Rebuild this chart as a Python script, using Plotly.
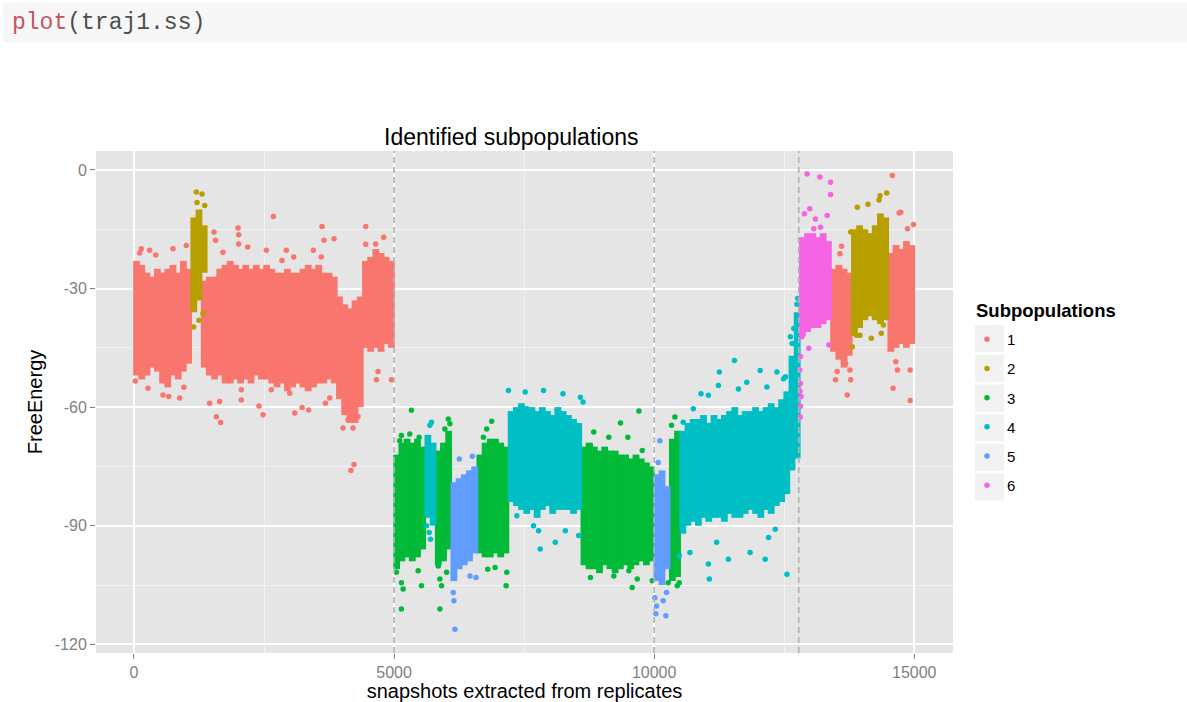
import plotly.graph_objects as go

# ---------------- data ----------------
CLUSTERS = ["1", "2", "3", "4", "5", "6"]
COLORS = ["#F8766D", "#B79F00", "#00BA38", "#00BFC4", "#619CFF", "#F564E3"]

# dense cores: bin centre (snapshot), upper and lower FreeEnergy edge of the dense cloud
c1_bin_x = [50, 150, 250, 350, 450, 550, 650, 750, 850, 950, 1050,
            1350, 1450, 1550, 1650, 1750, 1850, 1950, 2050, 2150, 2250, 2350, 2450, 2550,
            2650, 2750, 2850, 2950, 3050, 3150, 3250, 3350, 3450, 3550, 3650, 3750, 3850,
            3950, 4050, 4150, 4250, 4350, 4450, 4550, 4650, 4750, 4850, 4950,
            13450, 13550, 13650, 13750,
            14550, 14650, 14750, 14850, 14950]
c1_bin_top = [-23, -24, -26, -27, -25, -26, -25, -24, -26, -23, -25,
              -28, -27, -27, -25, -24, -23, -24, -25, -24, -25, -24, -25, -24,
              -25, -26, -26, -25, -26, -26, -25, -24, -25, -24, -26, -26, -27,
              -32, -34, -35, -33, -32, -23, -22, -20, -21, -22, -23,
              -25, -24, -25, -26,
              -21, -19, -20, -18, -19]
c1_bin_bot = [-52, -53, -52, -50, -51, -54, -55, -52, -53, -51, -49,
              -50, -52, -53, -52, -54, -54, -53, -54, -53, -54, -52, -53, -53,
              -54, -55, -54, -56, -55, -54, -55, -56, -55, -54, -54, -53, -54,
              -58, -62, -64, -64, -60, -45, -46, -45, -46, -44, -45,
              -46, -48, -50, -47,
              -46, -45, -44, -45, -44]

c2_bin_x = [1150, 1250, 1350, 13850, 13950, 14050, 14150, 14250, 14350, 14450]
c2_bin_top = [-12, -10, -14, -15, -14, -15, -16, -14, -11, -12]
c2_bin_bot = [-36, -33, -26, -42, -40, -38, -37, -38, -39, -38]

c3_bin_x = [5050, 5150, 5250, 5350, 5450, 5550,
            5850, 5950, 6050,
            6650, 6750, 6850, 6950, 7050, 7150,
            8650, 8750, 8850, 8950, 9050, 9150, 9250, 9350, 9450, 9550, 9650, 9750, 9850, 9950,
            10350, 10450]
c3_bin_top = [-72, -69, -68, -69, -68, -70,
              -71, -69, -66,
              -72, -69, -68, -68, -69, -70,
              -70, -69, -70, -71, -70, -71, -71, -72, -72, -73, -72, -73, -74, -75,
              -68, -66]
c3_bin_bot = [-101, -99, -98, -99, -98, -96,
              -100, -99, -96,
              -97, -98, -98, -97, -98, -97,
              -100, -101, -101, -102, -100, -101, -102, -101, -100, -101, -100, -99, -100, -99,
              -104, -103]

c4_bin_x = [5650, 5750,
            7250, 7350, 7450, 7550, 7650, 7750, 7850, 7950, 8050, 8150, 8250, 8350, 8450, 8550,
            10550, 10650, 10750, 10850, 10950, 11050, 11150, 11250, 11350, 11450, 11550, 11650,
            11750, 11850, 11950, 12050, 12150, 12250, 12350, 12450, 12550, 12650, 12750]
c4_bin_top = [-67, -69,
              -61, -60, -59, -61, -60, -61, -60, -61, -62, -60, -61, -62, -63, -64,
              -66, -64, -63, -63, -62, -64, -62, -63, -62, -61, -60, -62,
              -61, -61, -60, -61, -60, -59, -60, -58, -56, -47, -36]
c4_bin_bot = [-88, -90,
              -84, -85, -86, -87, -86, -88, -86, -85, -87, -86, -86, -86, -87, -86,
              -92, -90, -89, -90, -88, -89, -88, -88, -89, -87, -88, -88,
              -87, -86, -87, -88, -86, -87, -85, -84, -82, -76, -73]

c5_bin_x = [6150, 6250, 6350, 6450, 6550, 10050, 10150, 10250]
c5_bin_top = [-79, -78, -77, -76, -75, -77, -76, -80]
c5_bin_bot = [-104, -101, -100, -99, -97, -104, -105, -101]

c6_bin_x = [12850, 12950, 13050, 13150, 13250, 13350]
c6_bin_top = [-17, -16, -16, -17, -16, -18]
c6_bin_bot = [-42, -41, -40, -40, -39, -38]

# scattered individual snapshots around the clouds
c1_pt_x = [26, 270, 558, 667, 878, 141, 750, 1006, 301, 110, 420, 960,
           2680, 2000, 1538, 1570, 2013, 2013, 2186, 3615, 3654, 3846, 4455, 4455, 4647, 4801,
           2545, 2929, 3449, 3602, 1711, 2846, 3070,
           1583, 1667, 1455, 1647, 2064, 2404, 2481, 2994, 3090, 3231, 3359, 3679, 3763,
           2064, 2641, 4019, 4211, 4115, 4308, 4692, 4660, 4949, 4170, 4230,
           13603, 13571, 13487, 13519, 13777, 13712, 13764, 13680,
           14741, 14870, 14986, 14580, 14709, 14645, 14677, 14921, 14593, 14921]
c1_pt_y = [-53.4, -55.2, -56.9, -57.3, -57.7, -19.9, -19.9, -19.1, -20.3, -21, -21.5, -55,
           -11.8, -14.7, -15.7, -17.8, -16.4, -18.7, -19.5, -14.3, -17.8, -17.4, -14.3, -18.8, -18.7, -17,
           -20.3, -20.3, -20.3, -22, -20.8, -22.9, -22,
           -62.4, -63.9, -59, -58.6, -58.2, -59.7, -61.9, -56.5, -61.5, -60.1, -60.7, -59, -57.7,
           -55.6, -55.6, -65.3, -65.3, -63.2, -62.4, -51, -53.1, -53.1, -76, -74.5,
           -19.3, -21.2, -53.1, -51, -53.1, -56.9, -50.6, -48.9,
           -10.7, -14.9, -13.8, -1.4, -10.9, -48.5, -50.6, -50.6, -55.2, -58.3]

c2_pt_x = [1199, 1308, 1212, 1359, 1147, 1327, 1250,
           14323, 14471, 14343, 14111, 13905, 13777, 13809, 13957, 14174, 14367, 14407, 13890]
c2_pt_y = [-5.6, -6.1, -8.2, -9, -39.7, -36.3, -38,
           -7.6, -5.8, -6.5, -8.7, -9.4, -15.7, -44.7, -41.8, -42.6, -41.3, -39.2, -41.8]

c3_pt_x = [5334, 5141, 5109, 5302, 5482, 5141, 5174, 5141, 5527, 5463, 5045,
           6042, 6074, 5977, 5849, 5881, 5913, 5881, 6010,
           6877, 6781, 6717, 7154, 6800, 6942, 7167,
           9707, 9353, 9128, 8839, 8775, 9494, 9771, 8775, 9225, 9578, 9675, 9964, 9514,
           10399, 10334, 10444, 10482, 10270]
c3_pt_y = [-60.8, -67.2, -68.5, -66.8, -67.6, -104.4, -106, -111.1, -105.2, -101.4, -101.8,
           -63, -64.2, -65.5, -100.2, -103.5, -105.2, -111.1, -101.8,
           -63.6, -65.5, -67.6, -105.2, -101, -100.6, -101.8,
           -61, -64, -67.6, -66.3, -69.7, -67.6, -71, -103.1, -102.7, -105.6, -103.5, -103.9, -101.4,
           -62.5, -64.6, -105.2, -104.4, -104.4]

c4_pt_x = [5720, 5688, 5624, 5701, 5675,
           7199, 7521, 7874, 8247, 8582, 8633, 7553, 8132, 7360, 7778, 7810, 8099, 8292, 8549, 7681,
           11543, 11254, 11235, 12038, 12360, 10900, 11042, 11781, 11620, 12167, 12488, 10752, 10559,
           11061, 11042, 11427, 11845, 12135, 12553, 10688, 11202, 12199, 12328, 10482,
           12684, 12619, 12652, 12523, 12716, 12760, 12745]
c4_pt_y = [-63.8, -64.6, -90, -93.4, -91.7,
           -55.8, -56.2, -55.8, -56.6, -57.5, -58.7, -60.4, -60.8, -87.5, -91.3, -95.9, -94.2, -91.3, -92.5, -90,
           -48.2, -51.1, -54.5, -50.7, -51.1, -56.6, -57, -53.7, -55.4, -54.9, -52.8, -60.4, -63.8,
           -103.5, -99.7, -98.5, -96.8, -98.5, -102.3, -96.8, -94.2, -93, -90.9, -97.6,
           -40.1, -42.2, -43.9, -52.3, -47.6, -32.5, -34]

c5_pt_x = [6170, 6151, 6138, 6254, 6505, 6575, 6460,
           10109, 10077, 10013, 10045, 10174, 10225, 10238, 10032]
c5_pt_y = [-116.2, -109, -106.9, -73.1, -72.4, -103.1, -102.7,
           -68.5, -74, -108.2, -110.3, -109, -112.8, -106.9, -112.3]

c6_pt_x = [12941, 13185, 13391, 13391, 12992, 12889, 13101, 13326, 13198, 13069,
           12973, 13359, 12844, 12812, 12799, 12812, 12825, 12812, 12810, 12805]
c6_pt_y = [-1, -1.8, -3.1, -6.2, -9.8, -11.1, -12.4, -11.5, -14.5, -14.9,
           -45.1, -44.3, -42.2, -47.2, -50.6, -54, -57.3, -59.8, -62.5, -56]

replicate_bounds = [5000, 10000, 12780]

x_tickvals = [0, 5000, 10000, 15000]
x_ticktext = ["0", "5000", "10000", "15000"]
y_tickvals = [0, -30, -60, -90, -120]
y_ticktext = ["0", "-30", "-60", "-90", "-120"]

# ---------------- figure ----------------
W, H = 1187, 702
L, R, T, B = 96, 953, 151, 653
FONT = "Liberation Sans, Arial, sans-serif"


def px_x(px):
    return (px - L) / (R - L)


def px_y(py):
    return (B - py) / (B - T)


bins = [(c1_bin_x, c1_bin_top, c1_bin_bot), (c2_bin_x, c2_bin_top, c2_bin_bot),
        (c3_bin_x, c3_bin_top, c3_bin_bot), (c4_bin_x, c4_bin_top, c4_bin_bot),
        (c5_bin_x, c5_bin_top, c5_bin_bot), (c6_bin_x, c6_bin_top, c6_bin_bot)]
pts = [(c1_pt_x, c1_pt_y), (c2_pt_x, c2_pt_y), (c3_pt_x, c3_pt_y),
       (c4_pt_x, c4_pt_y), (c5_pt_x, c5_pt_y), (c6_pt_x, c6_pt_y)]

fig = go.Figure()
for name, col, (bx, bt, bb), (qx, qy) in zip(CLUSTERS, COLORS, bins, pts):
    sx, sy = [], []
    for x, t, b in zip(bx, bt, bb):
        sx += [x, x, None]
        sy += [t, b, None]
    fig.add_trace(go.Scatter(x=sx, y=sy, mode="lines", line=dict(color=col, width=6.8),
                             legendgroup=name, showlegend=False, hoverinfo="skip"))
    fig.add_trace(go.Scatter(x=qx, y=qy, mode="markers", name=name, legendgroup=name,
                             marker=dict(color=col, size=5.5, line=dict(width=0))))

for xb in replicate_bounds:
    fig.add_shape(type="line", xref="x", yref="paper", x0=xb, x1=xb, y0=0, y1=1,
                  line=dict(color="#B3B3B3", width=1.7, dash="6px,4px"), layer="above")

# legend key backgrounds
for i in range(len(CLUSTERS)):
    cy = 338.7 + 29.65 * i
    fig.add_shape(type="rect", xref="paper", yref="paper",
                  x0=px_x(975), x1=px_x(1004), y0=px_y(cy + 13.5), y1=px_y(cy - 13.5),
                  fillcolor="#F2F2F2", line=dict(width=0), layer="below")

# legend title
fig.add_annotation(xref="paper", yref="paper", x=px_x(974), y=px_y(310), xanchor="left", yanchor="middle",
                   text="<b>Subpopulations</b>", showarrow=False,
                   font=dict(family=FONT, size=18.5, color="#000000"))

# code chunk header
fig.add_shape(type="rect", xref="paper", yref="paper",
              x0=px_x(3), x1=px_x(1187), y0=px_y(43), y1=px_y(3),
              fillcolor="#F7F7F7", line=dict(width=0), layer="below")
fig.add_annotation(xref="paper", yref="paper", x=px_x(10), y=px_y(23), xanchor="left", yanchor="middle",
                   text='<span style="color:#C2555F">plot</span>(traj1.ss)', showarrow=False,
                   font=dict(family="Liberation Mono, DejaVu Sans Mono, monospace", size=23, color="#4D4D4D"))

# chart title
fig.add_annotation(xref="paper", yref="paper", x=px_x(511), y=px_y(137), xanchor="center", yanchor="middle",
                   text="Identified subpopulations", showarrow=False,
                   font=dict(family=FONT, size=23, color="#000000"))

axis_common = dict(showgrid=True, gridcolor="#FFFFFF", gridwidth=1.6, zeroline=False,
                   ticks="outside", ticklen=5, tickwidth=1, tickcolor="#7F7F7F",
                   tickfont=dict(family=FONT, size=16, color="#7F7F7F"),
                   showline=False, tickmode="array")

fig.update_layout(
    width=W, height=H,
    margin=dict(l=L, r=W - R, t=T, b=H - B, autoexpand=False),
    paper_bgcolor="#FFFFFF", plot_bgcolor="#E5E5E5",
    showlegend=True,
    legend=dict(x=px_x(967), y=px_y(323), xanchor="left", yanchor="top",
                font=dict(family=FONT, size=15, color="#000000"),
                traceorder="grouped", tracegroupgap=6.7, bgcolor="rgba(0,0,0,0)", borderwidth=0),
    xaxis=dict(range=[-730, 15745], tickvals=x_tickvals, ticktext=x_ticktext,
               minor=dict(tickvals=[2500, 7500, 12500], showgrid=True, gridcolor="#F2F2F2", gridwidth=1, ticks=""),
               title=dict(text="snapshots extracted from replicates", standoff=7,
                          font=dict(family=FONT, size=20, color="#000000")),
               **axis_common),
    yaxis=dict(range=[-122.2, 4.8], tickvals=y_tickvals, ticktext=y_ticktext,
               minor=dict(tickvals=[-15, -45, -75, -105], showgrid=True, gridcolor="#F2F2F2", gridwidth=1, ticks=""),
               title=dict(text="FreeEnergy", standoff=6,
                          font=dict(family=FONT, size=20, color="#000000")),
               **axis_common),
)

fig.write_html("out.html", config={"displayModeBar": False},
               post_script="document.body.style.margin='0';")
